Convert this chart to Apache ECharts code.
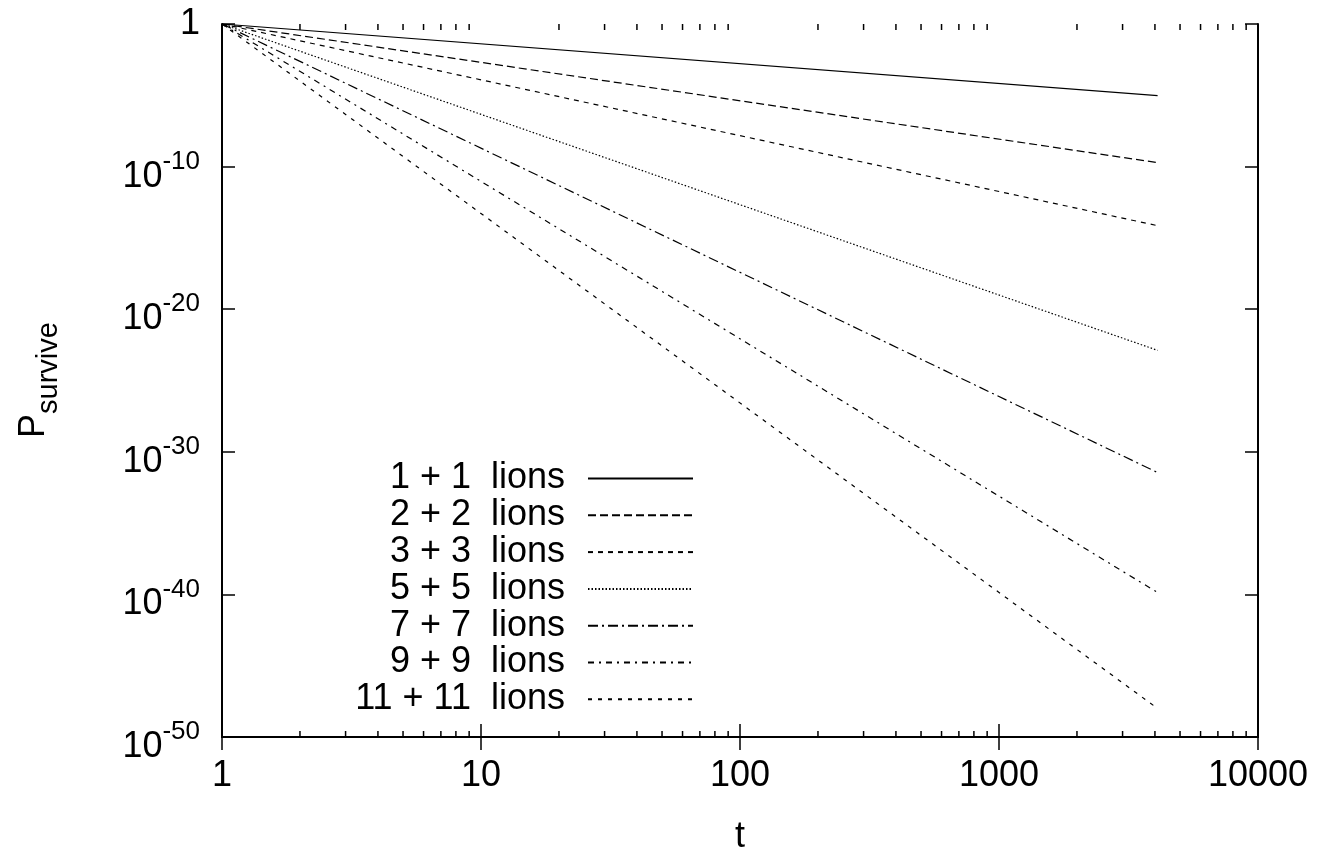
<!DOCTYPE html>
<html>
<head>
<meta charset="utf-8">
<script src="https://cdn.jsdelivr.net/npm/echarts@6/dist/echarts.min.js"></script>
<style>
html,body{margin:0;padding:0;background:#fff;}
#chart{width:1320px;height:853px;}
</style>
</head>
<body>
<div id="chart"></div>
<script>
// ---- data ----
const seriesNames = ['1 + 1  lions', '2 + 2  lions', '3 + 3  lions', '5 + 5  lions', '7 + 7  lions', '9 + 9  lions', '11 + 11  lions'];
const tPoints = [1, 4096];
const lions1 = [1, 9.5e-6];
const lions2 = [1, 1.9e-10];
const lions3 = [1, 7.2e-15];
const lions5 = [1, 1.3e-23];
const lions7 = [1, 3.5e-32];
const lions9 = [1, 1.35e-40];
const lions11 = [1, 1.0e-48];
const xMinorTicks = [2, 3, 4, 5, 6, 7, 8, 9, 20, 30, 40, 50, 60, 70, 80, 90, 200, 300, 400, 500, 600, 700, 800, 900, 2000, 3000, 4000, 5000, 6000, 7000, 8000, 9000];
const yTickValues = [1e-50, 1e-40, 1e-30, 1e-20, 1e-10, 1];
const yAxisTitle = '{p|P}{q|survive}';
const xAxisTitle = 't';

const seriesValues = [lions1, lions2, lions3, lions5, lions7, lions9, lions11];
const dashes = ['solid', [8, 4], [5, 5], [1.5, 2], [10, 4, 2, 4], [6, 5, 2, 5], [4, 6]];

const FONT = '"Liberation Sans", Arial, Helvetica, sans-serif';
const chart = echarts.init(document.getElementById('chart'), null, {renderer: 'canvas'});

const lineSeries = seriesNames.map((name, i) => ({
  name: name,
  type: 'line',
  xAxisIndex: 0,
  yAxisIndex: 0,
  symbol: 'none',
  silent: true,
  animation: false,
  data: tPoints.map((t, k) => [t, seriesValues[i][k]]),
  lineStyle: {color: '#000', width: 1.2, type: dashes[i]},
  itemStyle: {color: '#000'}
}));

const axisLineStyle = {show: true, lineStyle: {color: '#000', width: 2}};
const majorTick = {show: true, inside: true, length: 13, lineStyle: {color: '#000', width: 1.5}};

const yFormatter = function (v) {
  const e = Math.round(Math.log10(v));
  if (e === 0) return '{c|1}';
  return '{b|10}{s|' + e + '}';
};

const option = {
  backgroundColor: '#fff',
  animation: false,
  textStyle: {fontFamily: FONT, color: '#000'},
  grid: {left: 222, top: 24, width: 1036, height: 713, containLabel: false, outerBoundsMode: 'none'},
  graphic: [{
    type: 'text',
    x: 34,
    y: 380,
    rotation: Math.PI / 2,
    silent: true,
    style: {
      text: yAxisTitle,
      align: 'center',
      verticalAlign: 'middle',
      fill: '#000',
      rich: {
        p: {fontFamily: FONT, fontSize: 36, lineHeight: 36, verticalAlign: 'top', fill: '#000'},
        q: {fontFamily: FONT, fontSize: 29, lineHeight: 29, verticalAlign: 'top', padding: [18, 0, 0, 0], fill: '#000'}
      }
    }
  }],
  legend: {
    show: true,
    data: seriesNames,
    orient: 'vertical',
    align: 'right',
    left: 343,
    top: 460.5,
    padding: 0,
    itemGap: 0.8,
    itemWidth: 105,
    itemHeight: 14,
    selectedMode: false,
    itemStyle: {opacity: 0},
    formatter: '{a|{name}}',
    textStyle: {
      fontFamily: FONT,
      color: '#000',
      rich: {
        a: {fontFamily: FONT, fontSize: 36, lineHeight: 30, width: 222, align: 'right', padding: [0, 18, 0, 0], color: '#000'}
      }
    }
  },
  xAxis: [
    {
      type: 'log', logBase: 10, min: 1, max: 10000, interval: 1,
      position: 'bottom',
      name: xAxisTitle, nameLocation: 'middle', nameGap: 82,
      nameTextStyle: {fontFamily: FONT, fontSize: 36, color: '#000'},
      axisLine: axisLineStyle,
      axisTick: majorTick,
      splitLine: {show: false},
      axisLabel: {
        show: true, margin: 21, fontFamily: FONT, fontSize: 36, color: '#000',
        showMinLabel: true, showMaxLabel: true, hideOverlap: false,
        formatter: function (v) { return String(Math.round(v)); }
      }
    },
    {
      type: 'log', logBase: 10, min: 1, max: 10000, interval: 1,
      position: 'top',
      axisLine: axisLineStyle,
      axisTick: majorTick,
      splitLine: {show: false},
      axisLabel: {show: false}
    }
  ],
  yAxis: [
    {
      type: 'log', logBase: 10, min: 1e-50, max: 1, interval: 10,
      position: 'left',
      axisLine: axisLineStyle,
      axisTick: Object.assign({}, majorTick, {customValues: yTickValues}),
      splitLine: {show: false},
      axisLabel: {
        show: true, margin: 22, color: '#000',
        showMinLabel: true, showMaxLabel: true, hideOverlap: false,
        customValues: yTickValues,
        formatter: yFormatter,
        rich: {
          b: {fontFamily: FONT, fontSize: 36, lineHeight: 36, verticalAlign: 'top', padding: [10, 0, 0, 0], color: '#000'},
          s: {fontFamily: FONT, fontSize: 26, lineHeight: 26, verticalAlign: 'top', color: '#000'},
          c: {fontFamily: FONT, fontSize: 36, lineHeight: 36, color: '#000'}
        }
      }
    },
    {
      type: 'log', logBase: 10, min: 1e-50, max: 1, interval: 10,
      position: 'right',
      axisLine: axisLineStyle,
      axisTick: Object.assign({}, majorTick, {customValues: yTickValues}),
      splitLine: {show: false},
      axisLabel: {show: false}
    }
  ],
  series: lineSeries.concat([{
    name: 'minorTicks',
    type: 'custom',
    xAxisIndex: 0,
    yAxisIndex: 0,
    silent: true,
    clip: false,
    z: 10,
    data: xMinorTicks.map(t => [t, 1e-25]),
    renderItem: function (params, api) {
      const x = api.coord([api.value(0), api.value(1)])[0];
      const cs = params.coordSys;
      const st = {stroke: '#000', lineWidth: 1.5};
      return {
        type: 'group',
        children: [
          {type: 'line', shape: {x1: x, y1: cs.y + cs.height, x2: x, y2: cs.y + cs.height - 6}, style: st},
          {type: 'line', shape: {x1: x, y1: cs.y, x2: x, y2: cs.y + 6}, style: st}
        ]
      };
    }
  }])
};

chart.setOption(option);
</script>
</body>
</html>
